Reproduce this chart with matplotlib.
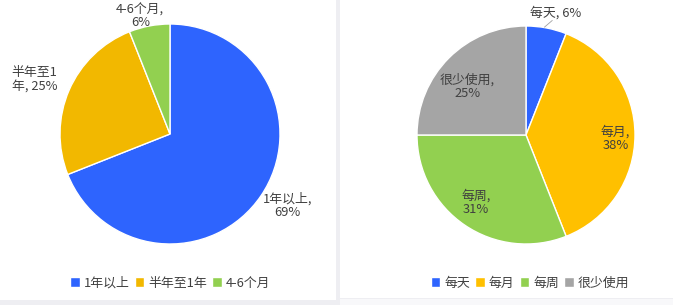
import matplotlib.pyplot as plt
from matplotlib.patches import Rectangle

plt.rcParams['font.family'] = ['Noto Sans CJK SC', 'DejaVu Sans']

left_labels = ['1年以上', '半年至1年', '4-6个月']
left_values = [69, 25, 6]
left_colors = ['#2E64FE', '#F2B800', '#92D050']

right_labels = ['每天', '每月', '每周', '很少使用']
right_values = [6, 38, 31, 25]
right_colors = ['#2E64FE', '#FFC000', '#92D050', '#A5A5A5']

W, H = 673, 305
fig = plt.figure(figsize=(W / 100, H / 100), dpi=100)
fig.patch.set_facecolor('#EEEEF2')
fig.patches.append(Rectangle((0, 5 / H), 336 / W, 1 - 5 / H, transform=fig.transFigure,
                             facecolor='white', edgecolor='none', zorder=-5))
fig.patches.append(Rectangle((340 / W, 7 / H), 1 - 340 / W, 1 - 7 / H, transform=fig.transFigure,
                             facecolor='white', edgecolor='none', zorder=-5))
fig.patches.append(Rectangle((340 / W, 0), 1 - 340 / W, 6 / H, transform=fig.transFigure,
                             facecolor='#F8F8FA', edgecolor='none', zorder=-5))

txt = '#404040'
fs = 9.3


def pie_axes(cx, cy, r, values, colors):
    ax = fig.add_axes([(cx - r) / W, (H - cy - r) / H, 2 * r / W, 2 * r / H])
    wedges, _ = ax.pie(values, colors=colors, startangle=90, counterclock=False,
                       radius=1, wedgeprops=dict(edgecolor='white', linewidth=1))
    ax.set_xlim(-1, 1)
    ax.set_ylim(-1, 1)
    ax.axis('off')
    return ax, wedges


ax1, w1 = pie_axes(170, 134, 110, left_values, left_colors)
ax1.text(-0.27, 1.07, '4-6个月,\n6%', ha='center', va='center', fontsize=fs, color=txt, linespacing=1.0)
ax1.text(-1.44, 0.5, '半年至1\n年, 25%', ha='left', va='center', fontsize=fs, color=txt, linespacing=1.05)
ax1.text(1.07, -0.65, '1年以上,\n69%', ha='center', va='center', fontsize=fs, color=txt, linespacing=1.05)
fig.legend(w1, left_labels, loc='center', bbox_to_anchor=(170 / W, 1 - 283 / H), ncol=3,
           frameon=False, fontsize=fs, handlelength=0.75, handleheight=0.75, handletextpad=0.3,
           columnspacing=0.4, labelcolor=txt)

ax2, w2 = pie_axes(526, 135, 109, right_values, right_colors)
ax2.text(0.27, 1.12, '每天, 6%', ha='center', va='center', fontsize=fs, color=txt)
ax2.plot([0.17, 0.24], [0.99, 1.05], color='#A0A0A0', lw=0.6, clip_on=False)
ax2.text(-0.54, 0.44, '很少使用,\n25%', ha='center', va='center', fontsize=fs, color=txt, linespacing=1.05)
ax2.text(0.82, -0.03, '每月,\n38%', ha='center', va='center', fontsize=fs, color=txt, linespacing=1.05)
ax2.text(-0.46, -0.62, '每周,\n31%', ha='center', va='center', fontsize=fs, color=txt, linespacing=1.05)
fig.legend(w2, right_labels, loc='center', bbox_to_anchor=(530 / W, 1 - 283 / H), ncol=4,
           frameon=False, fontsize=fs, handlelength=0.75, handleheight=0.75, handletextpad=0.3,
           columnspacing=0.4, labelcolor=txt)

fig.savefig('out.png', dpi=100, facecolor=fig.get_facecolor())
